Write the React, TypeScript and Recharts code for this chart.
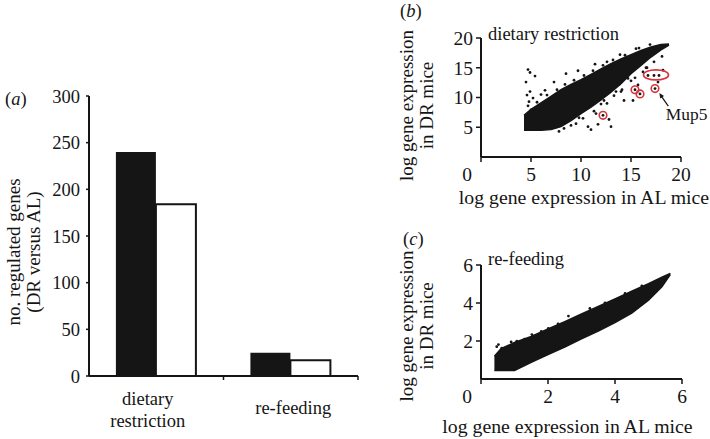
import React from "react";
import { BarChart, Bar, XAxis, YAxis, ComposedChart, Area, Scatter, Label } from "recharts";

const SERIF = '"Liberation Serif", "Times New Roman", serif';
const INK = "#151515";
const RING = "#d8343c";

// (a) number of regulated genes, DR versus AL
const categories = ["dietary restriction", "re-feeding"];
const solidCounts = [240, 25];
const openCounts = [184, 17];
const countTicks = [0, 50, 100, 150, 200, 250, 300];

// (b) dietary restriction: dense cloud edges + scattered genes
const drBandX = [4.3, 5, 6, 7, 8, 9, 10, 11, 12, 13, 14, 15, 16, 17, 18, 18.8];
const drBandLow = [4.5, 4.5, 4.5, 4.6, 5.1, 6.1, 7.3, 8.4, 9.6, 10.9, 12.3, 14.0, 15.4, 16.8, 18.0, 18.8];
const drBandHigh = [7.0, 8.0, 9.1, 10.2, 11.3, 12.2, 13.0, 13.9, 14.8, 15.7, 16.5, 17.2, 17.9, 18.5, 18.9, 19.0];
const drOutX = [4.7, 4.9, 4.5, 5.4, 4.9, 4.8, 5.0, 4.7, 4.6, 5.2, 8.5, 9.7, 7.3, 6.4, 11.4, 12.6, 13.9, 15.5, 6.0,
  10.7, 11.0, 11.5, 12.0, 11.7, 12.8, 13.0, 13.5, 13.8, 14.7, 15.2, 14.3, 15.7, 13.3, 16.7, 17.3, 17.8, 18.2, 17.7,
  16.5, 9.5, 10.2, 12.3, 15.0, 16.2, 17.3, 18.1, 9.0, 14.0,
  5.6, 6.6, 7.6, 8.4, 9.3, 10.3, 11.2, 12.2, 13.2, 14.4, 15.8, 16.9, 8.3, 9.8, 11.3, 12.6, 14.1, 15.4, 16.6, 7.8];
const drOutY = [14.7, 14.2, 12.6, 13.6, 11.0, 9.3, 7.9, 8.6, 10.4, 9.9, 14.0, 14.5, 12.6, 11.2, 15.6, 16.0, 17.2, 18.2, 10.5,
  5.1, 4.6, 7.3, 8.9, 5.5, 6.3, 5.1, 11.0, 12.2, 13.2, 9.5, 9.5, 12.1, 10.3, 13.7, 13.7, 13.7, 14.6, 12.6,
  15.0, 5.6, 6.5, 9.5, 12.8, 14.3, 16.0, 16.9, 5.3, 11.0,
  9.2, 10.4, 11.3, 12.2, 12.9, 13.7, 14.5, 15.4, 16.3, 17.1, 18.3, 18.9, 4.8, 6.6, 7.7, 9.0, 11.3, 13.3, 15.0, 4.3];
const drRingX = [12.2, 15.4, 15.9, 17.4];
const drRingY = [7.0, 11.3, 10.6, 11.5];
const drClusterX = [17.5];
const drClusterY = [13.8];
const mup5X = [17.83];
const mup5Y = [10.74];
const drYTicks = [5, 10, 15, 20];
const drXTicks = [0, 5, 10, 15, 20];

// (c) re-feeding
const rfBandX = [0.4, 0.6, 1.0, 1.5, 2.0, 2.5, 3.0, 3.5, 4.0, 4.5, 5.0, 5.4, 5.65];
const rfBandLow = [0.45, 0.45, 0.45, 0.88, 1.28, 1.68, 2.12, 2.52, 2.97, 3.47, 4.15, 4.85, 5.5];
const rfBandHigh = [1.2, 1.6, 1.92, 2.24, 2.63, 3.02, 3.42, 3.82, 4.22, 4.62, 5.02, 5.36, 5.56];
const rfOutX = [0.52, 0.62, 0.47, 1.07, 1.15, 1.52, 2.01, 2.61, 3.25, 3.4, 3.5, 1.3, 0.9, 1.8, 2.3, 2.9, 3.7, 4.3, 4.8];
const rfOutY = [1.81, 1.63, 1.7, 1.99, 1.78, 2.34, 2.66, 3.31, 3.71, 2.69, 2.6, 2.1, 1.95, 2.5, 2.9, 3.3, 4.0, 4.5, 4.9];
const rfYTicks = [2, 4, 6];
const rfXTicks = [0, 2, 4, 6];

const countRows = categories.map((name, i) => ({ name, solid: solidCounts[i], open: openCounts[i] }));
const pts = (xs: number[], ys: number[]) => xs.map((x, i) => ({ x, y: ys[i] }));
const bandRows = (xs: number[], lo: number[], hi: number[]) => xs.map((x, i) => ({ x, band: [lo[i], hi[i]] }));

const A_PLOT_W = 362 - 89 - 4;
const axisLine = { stroke: INK, strokeWidth: 2 };
const tickLine = { stroke: INK, strokeWidth: 1.5 };
const yTick = { fontSize: 19.5, fill: INK, fontFamily: SERIF };

function CategoryTick(props: any) {
  const { x, y, payload } = props;
  const lines = String(payload.value).split(" ");
  const half = A_PLOT_W / categories.length / 2;
  const cx = x + (lines.length > 1 ? -8.5 : 2.5);
  const first = lines.length > 1 ? 28.5 : 37.5;
  return (
    <g>
      <line x1={x + half} x2={x + half} y1={y} y2={y + 4} stroke={INK} strokeWidth={1.5} />
      <text textAnchor="middle" fontSize={18.5} fontFamily={SERIF} fill={INK}>
        {lines.map((l, i) => (
          <tspan key={l} x={cx} y={y + first + i * 22.5}>{l}</tspan>
        ))}
      </text>
    </g>
  );
}

function ValueTick(props: any) {
  const { x, y, payload } = props;
  const shift = payload.value === 0 ? -14 : 0;
  return (
    <text x={x + shift} y={y} dy="0.71em" textAnchor="middle" fontSize={19.5} fontFamily={SERIF} fill={INK}>
      {payload.value}
    </text>
  );
}

function StackedLabel({ viewBox, lines, cols, dy, size }: any) {
  const cy = viewBox.y + viewBox.height / 2 + dy;
  return (
    <g>
      {lines.map((l: string, i: number) => {
        const cx = viewBox.x + cols[i];
        return (
          <text key={l} x={cx} y={cy} transform={`rotate(-90 ${cx} ${cy})`} textAnchor="middle"
            dominantBaseline="central" fontSize={size} fontFamily={SERIF} fill={INK}>
            {l}
          </text>
        );
      })}
    </g>
  );
}

function XTitle({ viewBox, dx, dy }: any) {
  return (
    <text x={viewBox.x + viewBox.width / 2 + dx} y={viewBox.y + dy} textAnchor="middle" fontSize={19.8}
      fontFamily={SERIF} fill={INK}>
      log gene expression in AL mice
    </text>
  );
}

const Dot = (p: any) => <circle cx={p.cx} cy={p.cy} r={1.4} fill={INK} />;
const Ring = (p: any) => (
  <g>
    <circle cx={p.cx} cy={p.cy} r={1.4} fill={INK} />
    <circle cx={p.cx} cy={p.cy} r={3.8} fill="none" stroke={RING} strokeWidth={1.6} />
  </g>
);
const Oval = (p: any) => (
  <ellipse cx={p.cx} cy={p.cy} rx={12.5} ry={5} fill="none" stroke={RING} strokeWidth={1.6} />
);
const Pointer = (p: any) => (
  <g>
    <line x1={p.cx + 2} y1={p.cy + 3} x2={p.cx + 9} y2={p.cy + 13} stroke={INK} strokeWidth={1.2} />
    <polygon points={`${p.cx},${p.cy} ${p.cx + 4.7},${p.cy + 2.9} ${p.cx + 1},${p.cy + 5.4}`} fill={INK} />
    <text x={p.cx + 6.5} y={p.cy + 27} fontSize={17.4} fontFamily={SERIF} fill={INK}>Mup5</text>
  </g>
);

export default function App() {
  return (
    <div style={{ position: "absolute", left: 0, top: 0, width: 710, height: 439, background: "#fff" }}>
      <div style={{ position: "absolute", left: 0, top: 80 }}>
        <BarChart width={362} height={356} data={countRows} margin={{ top: 16, right: 4, bottom: 0, left: 0 }}
          barCategoryGap="20%" barGap={0}>
          <XAxis dataKey="name" height={60} axisLine={axisLine} tickLine={false} tickSize={0} tickMargin={0}
            tick={<CategoryTick />} interval={0} />
          <YAxis width={89} domain={[0, 300]} ticks={countTicks} axisLine={axisLine} tickLine={tickLine}
            tickSize={3} tickMargin={6} tick={{ ...yTick, fontSize: 18.5 }}>
            <Label content={(p: any) => (
              <StackedLabel viewBox={p.viewBox} lines={["no. regulated genes", "(DR versus AL)"]}
                cols={[13, 33]} dy={16} size={19} />
            )} />
          </YAxis>
          <Bar dataKey="solid" fill={INK} isAnimationActive={false} />
          <Bar dataKey="open" fill="#fff" stroke={INK} strokeWidth={2} isAnimationActive={false} />
        </BarChart>
      </div>

      <div style={{ position: "absolute", left: 360, top: 0 }}>
        <ComposedChart width={350} height={220} data={bandRows(drBandX, drBandLow, drBandHigh)}
          margin={{ top: 38, right: 29, bottom: 0, left: 0 }} style={{ overflow: "visible" }}>
          <XAxis type="number" dataKey="x" domain={[0, 20]} ticks={drXTicks} height={63} axisLine={axisLine}
            tickLine={tickLine} tickSize={5} tickMargin={5} tick={<ValueTick />}>
            <Label content={(p: any) => <XTitle viewBox={p.viewBox} dx={3} dy={47} />} />
          </XAxis>
          <YAxis type="number" dataKey="y" domain={[0, 20]} ticks={drYTicks} width={121} axisLine={axisLine}
            tickLine={tickLine} tickSize={5} tickMargin={3} tick={yTick}>
            <Label content={(p: any) => (
              <StackedLabel viewBox={p.viewBox} lines={["log gene expression", "in DR mice"]}
                cols={[46.5, 66]} dy={8} size={19} />
            )} />
          </YAxis>
          <Area type="linear" dataKey="band" fill={INK} fillOpacity={1} stroke={INK} strokeWidth={1.5}
            isAnimationActive={false} />
          <Scatter data={pts(drOutX, drOutY)} dataKey="y" shape={Dot} isAnimationActive={false} />
          <Scatter data={pts(drRingX, drRingY)} dataKey="y" shape={Ring} isAnimationActive={false} />
          <Scatter data={pts(drClusterX, drClusterY)} dataKey="y" shape={Oval} isAnimationActive={false} />
          <Scatter data={pts(mup5X, mup5Y)} dataKey="y" shape={Pointer} isAnimationActive={false} />
        </ComposedChart>
      </div>

      <div style={{ position: "absolute", left: 360, top: 220 }}>
        <ComposedChart width={350} height={219} data={bandRows(rfBandX, rfBandLow, rfBandHigh)}
          margin={{ top: 45, right: 28, bottom: 0, left: 0 }}>
          <XAxis type="number" dataKey="x" domain={[0, 6]} ticks={rfXTicks} height={60} axisLine={axisLine}
            tickLine={tickLine} tickSize={5} tickMargin={5} tick={<ValueTick />}>
            <Label content={(p: any) => <XTitle viewBox={p.viewBox} dx={-14} dy={54} />} />
          </XAxis>
          <YAxis type="number" dataKey="y" domain={[0, 6]} ticks={rfYTicks} width={121} axisLine={axisLine}
            tickLine={tickLine} tickSize={5} tickMargin={3} tick={yTick}>
            <Label content={(p: any) => (
              <StackedLabel viewBox={p.viewBox} lines={["log gene expression", "in DR mice"]}
                cols={[46.5, 66]} dy={4} size={19} />
            )} />
          </YAxis>
          <Area type="linear" dataKey="band" fill={INK} fillOpacity={1} stroke={INK} strokeWidth={1.5}
            isAnimationActive={false} />
          <Scatter data={pts(rfOutX, rfOutY)} dataKey="y" shape={Dot} isAnimationActive={false} />
        </ComposedChart>
      </div>

      <svg width={710} height={439} style={{ position: "absolute", left: 0, top: 0, pointerEvents: "none" }}
        fontFamily={SERIF} fill={INK} fontSize={18.5}>
        <text x={5} y={104.5}>(<tspan fontStyle="italic">a</tspan>)</text>
        <text x={400} y={17}>(<tspan fontStyle="italic">b</tspan>)</text>
        <text x={403} y={245}>(<tspan fontStyle="italic">c</tspan>)</text>
        <text x={488} y={39.5}>dietary restriction</text>
        <text x={488} y={265}>re-feeding</text>
      </svg>
    </div>
  );
}
